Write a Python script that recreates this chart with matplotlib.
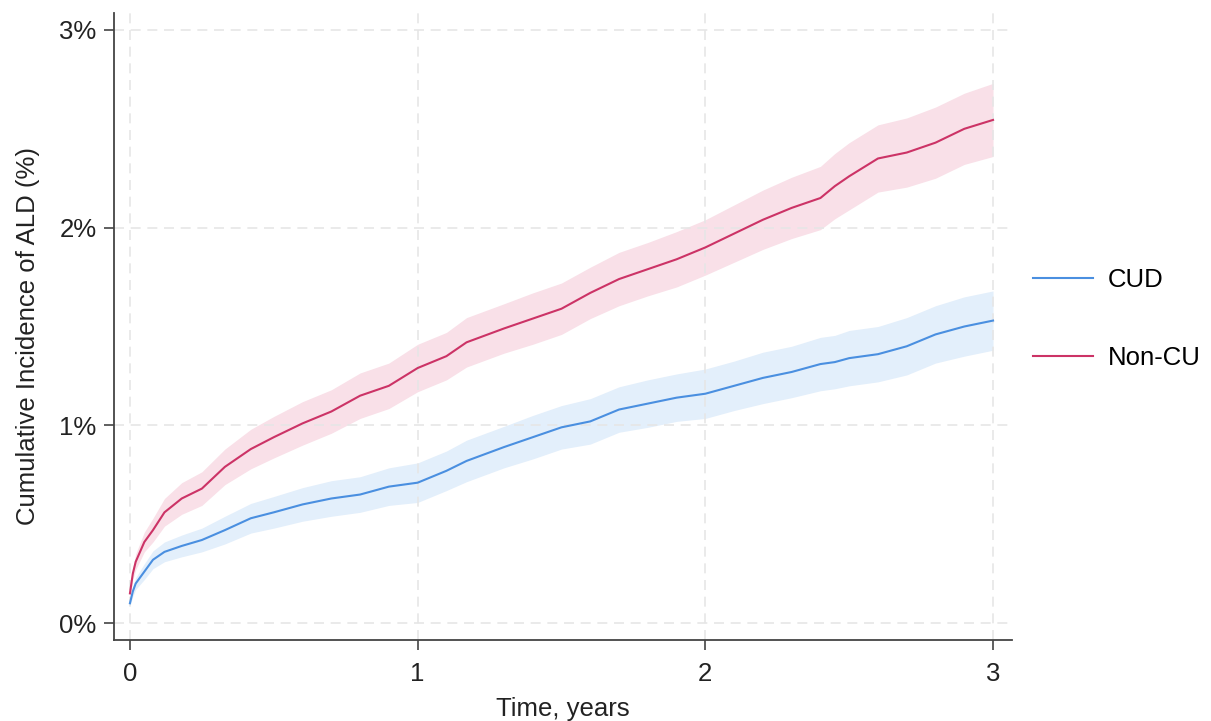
import numpy as np
import matplotlib.pyplot as plt

plt.rcParams['font.family'] = ['Liberation Sans', 'DejaVu Sans']

# time in years
t = [0, 0.01, 0.02, 0.05, 0.08, 0.12, 0.18, 0.25, 0.33, 0.42, 0.5, 0.6, 0.7,
     0.8, 0.9, 1.0, 1.1, 1.17, 1.3, 1.4, 1.5, 1.6, 1.7, 1.8, 1.9, 2.0, 2.1,
     2.2, 2.3, 2.4, 2.45, 2.5, 2.6, 2.7, 2.8, 2.9, 3.0]

# cumulative incidence (%)
cud = [0.10, 0.16, 0.20, 0.26, 0.32, 0.36, 0.39, 0.42, 0.47, 0.53, 0.56, 0.60,
       0.63, 0.65, 0.69, 0.71, 0.77, 0.82, 0.89, 0.94, 0.99, 1.02, 1.08, 1.11,
       1.14, 1.16, 1.20, 1.24, 1.27, 1.31, 1.32, 1.34, 1.36, 1.40, 1.46, 1.50,
       1.53]
noncu = [0.15, 0.25, 0.31, 0.41, 0.47, 0.56, 0.63, 0.68, 0.79, 0.88, 0.94,
         1.01, 1.07, 1.15, 1.20, 1.29, 1.35, 1.42, 1.49, 1.54, 1.59, 1.67,
         1.74, 1.79, 1.84, 1.90, 1.97, 2.04, 2.10, 2.15, 2.21, 2.26, 2.35,
         2.38, 2.43, 2.50, 2.545]

# half width of the 95% CI bands
cud_hw = [0.015, 0.025, 0.03, 0.04, 0.045, 0.05, 0.055, 0.06, 0.07, 0.075,
          0.08, 0.085, 0.09, 0.09, 0.095, 0.10, 0.10, 0.105, 0.105, 0.11,
          0.11, 0.115, 0.115, 0.12, 0.12, 0.125, 0.125, 0.13, 0.13, 0.135,
          0.135, 0.14, 0.14, 0.145, 0.145, 0.15, 0.15]
noncu_hw = [0.02, 0.03, 0.04, 0.05, 0.06, 0.07, 0.08, 0.085, 0.09, 0.10,
            0.105, 0.11, 0.11, 0.115, 0.115, 0.12, 0.12, 0.125, 0.125, 0.13,
            0.13, 0.13, 0.135, 0.135, 0.14, 0.14, 0.145, 0.15, 0.155, 0.16,
            0.165, 0.17, 0.17, 0.175, 0.18, 0.18, 0.185]

t = np.array(t)
cud = np.array(cud)
noncu = np.array(noncu)
cud_hw = np.array(cud_hw)
noncu_hw = np.array(noncu_hw)

blue = '#4a8fe0'
red = '#cc3366'

fig = plt.figure(figsize=(12.11, 7.21), dpi=100)
ax = fig.add_axes([0.0941, 0.1123, 0.7416, 0.8697])

ax.fill_between(t, cud - cud_hw, cud + cud_hw, color='#e3effb', lw=0)
ax.fill_between(t, noncu - noncu_hw, noncu + noncu_hw, color='#f9e0e8', lw=0)
ax.plot(t, cud, color=blue, lw=1.5, label='CUD')
ax.plot(t, noncu, color=red, lw=1.5, label='Non-CU')

ax.set_xlim(-0.0556, 3.066)
ax.set_ylim(-0.086, 3.086)
ax.set_xticks([0, 1, 2, 3])
ax.set_yticks([0, 1, 2, 3])
ax.set_yticklabels(['0%', '1%', '2%', '3%'])

# grid sits over the bands but under the curves
ax.grid(True, color='#e6e6e6', lw=1.2, ls=(0, (6, 4)))
ax.set_axisbelow('line')
for s in ['top', 'right']:
    ax.spines[s].set_visible(False)
for s in ['left', 'bottom']:
    ax.spines[s].set_color('#444444')
    ax.spines[s].set_linewidth(1.3)
ax.tick_params(length=7.5, width=1.2, color='#444444', labelsize=18.5,
               labelcolor='#222222')
ax.tick_params(axis='x', pad=8)
ax.tick_params(axis='y', pad=5)

ax.set_xlabel('Time, years', fontsize=18.5, color='#222222', labelpad=8)
ax.set_ylabel('Cumulative Incidence of ALD (%)', fontsize=18.5,
              color='#222222', labelpad=14)
ax.yaxis.label.set_y(0.485)

fig.legend(loc='center left', bbox_to_anchor=(1033 / 1211, 0.5576),
           frameon=False, fontsize=18.5, handlelength=2.33,
           handletextpad=0.58, labelspacing=2.13, borderpad=0,
           borderaxespad=0)

fig.savefig('out.png', dpi=100)
